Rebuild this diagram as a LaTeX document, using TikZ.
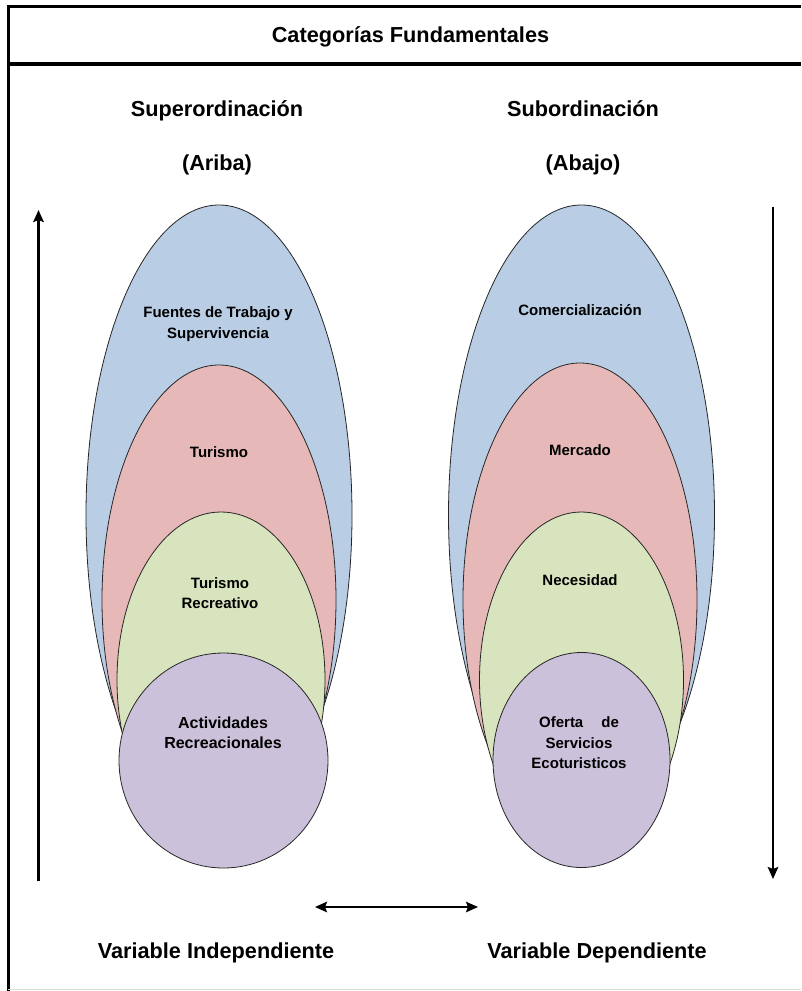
\documentclass[tikz,border=0pt]{standalone}
\usepackage{fontspec}
\setmainfont{Liberation Sans}
\usetikzlibrary{arrows.meta}
\definecolor{cblue}{HTML}{B9CDE5}
\definecolor{cpink}{HTML}{E6B9B8}
\definecolor{cgreen}{HTML}{D7E4BD}
\definecolor{cpurple}{HTML}{CCC1DA}
\tikzset{
  lbl/.style={font=\fontsize{15}{20.5}\selectfont\bfseries, align=center, inner sep=0pt},
  head/.style={font=\fontsize{21.7}{26}\selectfont\bfseries, anchor=base, inner sep=0pt},
  arr/.style={line width=2.2pt, -{Stealth[length=12pt,width=10.5pt,inset=2pt]}},
  darr/.style={line width=2.2pt, {Stealth[length=12pt,width=10.5pt,inset=2pt]}-{Stealth[length=12pt,width=10.5pt,inset=2pt]}},
  oval/.style={draw=black!85, line width=0.8pt},
  frame/.style={line width=3.2pt, black}
}
\begin{document}
\begin{tikzpicture}[x=1pt,y=-1pt]
\useasboundingbox (0,0) rectangle (801,991);
\fill[white] (0,0) rectangle (801,991);

% frame
\draw[frame] (8.3,991) -- (8.3,6.7) -- (801,6.7);
\draw[frame] (8.3,64) -- (801,64);
\draw[black!15, line width=1pt] (8.3,989.5) -- (801,989.5);

\node[head] (title) at (410.5,42) {Categorías Fundamentales};

\node[head] (sup) at (217,116) {Superordinación};
\node[head] (ariba) at (217,170) {(Ariba)};
\node[head] (sub) at (583,116) {Subordinación};
\node[head] (abajo) at (583,170) {(Abajo)};

% left group
\filldraw[oval, fill=cblue] (219,515) ellipse [x radius=133pt, y radius=310pt];
\filldraw[oval, fill=cpink] (219,600) ellipse [x radius=117pt, y radius=235pt];
\filldraw[oval, fill=cgreen] (221,680) ellipse [x radius=104pt, y radius=168pt];
\filldraw[oval, fill=cpurple] (223.5,760.5) ellipse [x radius=104.5pt, y radius=107.5pt];

\node[lbl] (l1) at (218,324) {Fuentes de Trabajo y\\Supervivencia};
\node[lbl] (l2) at (219,452) {Turismo};
\node[lbl] (l3) at (220,593) {Turismo\\Recreativo};
\node[lbl, font=\fontsize{16}{20}\selectfont\bfseries] (l4) at (223,733) {Actividades\\Recreacionales};

% right group
\filldraw[oval, fill=cblue] (581.5,515) ellipse [x radius=133pt, y radius=310pt];
\filldraw[oval, fill=cpink] (580,600) ellipse [x radius=117pt, y radius=237pt];
\filldraw[oval, fill=cgreen] (581.5,680) ellipse [x radius=102pt, y radius=168pt];
\filldraw[oval, fill=cpurple] (581.5,760) ellipse [x radius=88.5pt, y radius=107.5pt];

\node[lbl] (r1) at (580,310) {Comercialización};
\node[lbl] (r2) at (580,450) {Mercado};
\node[lbl] (r3) at (580,580) {Necesidad};
\node[lbl] (r4) at (579,743) {Oferta\hspace{1.2em}de\\Servicios\\Ecoturisticos};

% arrows
\coordinate (la0) at (38.5,881);
\coordinate (la1) at (38.5,210);
\draw[arr] (la0) -- (la1);
\coordinate (ra0) at (773,207);
\coordinate (ra1) at (773,879);
\draw[arr] (ra0) -- (ra1);
\coordinate (ha0) at (315,907);
\coordinate (ha1) at (478,907);
\draw[darr] (ha0) -- (ha1);

\node[head] (vi) at (216,958) {Variable Independiente};
\node[head] (vd) at (597,958) {Variable Dependiente};
\end{tikzpicture}
\end{document}
